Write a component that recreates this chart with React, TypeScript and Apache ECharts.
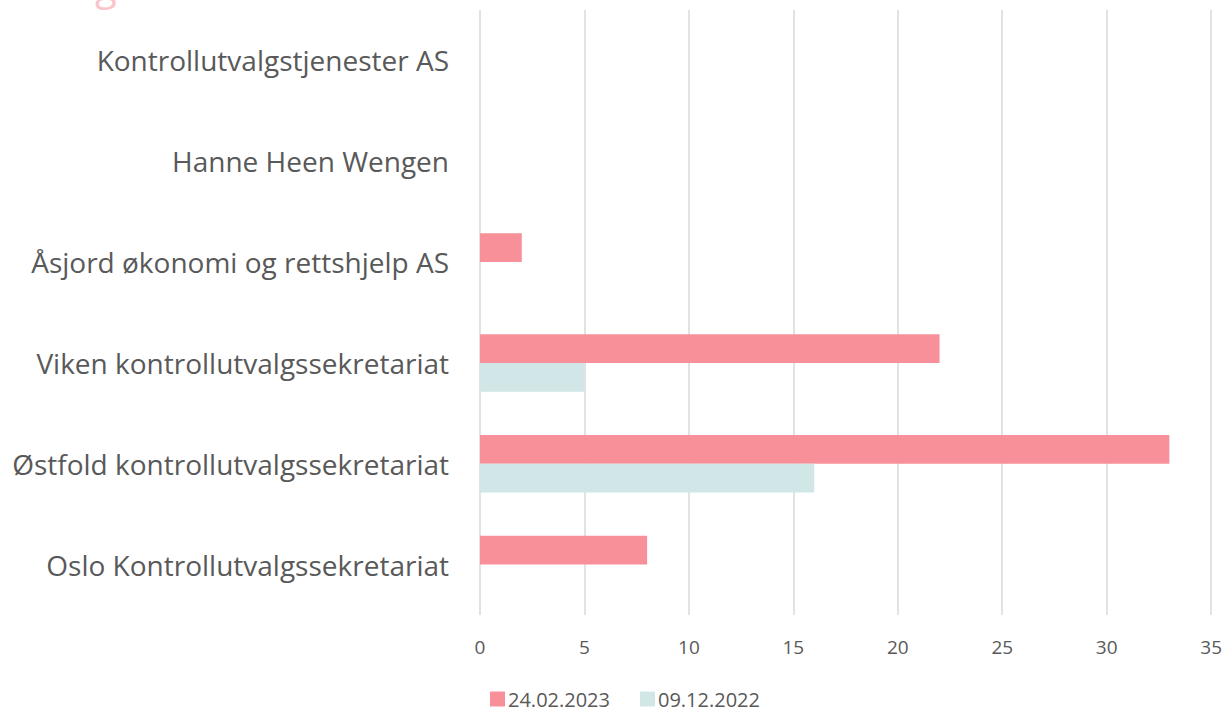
import React, { useEffect, useRef } from "react";
import * as echarts from "echarts";

const categories = [
  "Oslo Kontrollutvalgssekretariat",
  "Østfold kontrollutvalgssekretariat",
  "Viken kontrollutvalgssekretariat",
  "Åsjord økonomi og rettshjelp AS",
  "Hanne Heen Wengen",
  "Kontrollutvalgstjenester AS",
];
const series2023 = [8, 33, 22, 2, 0, 0];
const series2022 = [0, 16, 5, 0, 0, 0];
const seriesNames = ["24.02.2023", "09.12.2022"];
const xTicks = { min: 0, max: 35, interval: 5 };

export default function App() {
  const ref = useRef<HTMLDivElement>(null);
  useEffect(() => {
    document.body.style.margin = "0";
    const chart = echarts.init(ref.current!, null, { renderer: "svg" });
    const font = "'Open Sans', sans-serif";
    chart.setOption({
      animation: false,
      backgroundColor: "#ffffff",
      textStyle: { fontFamily: font },
      grid: { left: 480, right: 13, top: 10, bottom: 92, containLabel: false },
      xAxis: {
        type: "value",
        min: xTicks.min,
        max: xTicks.max,
        interval: xTicks.interval,
        axisLine: { show: false },
        axisTick: { show: false },
        splitLine: { show: true, lineStyle: { color: "#d9d9d9", width: 1.5 } },
        axisLabel: { color: "#595959", fontSize: 19, margin: 22, fontFamily: font },
      },
      yAxis: {
        type: "category",
        data: categories,
        axisLine: { show: false },
        axisTick: { show: false },
        splitLine: { show: false },
        axisLabel: { color: "#595959", fontSize: 28, margin: 31, fontFamily: font },
      },
      legend: {
        data: seriesNames,
        left: 490,
        top: 689,
        padding: 0,
        itemWidth: 15,
        itemHeight: 15,
        itemGap: 30,
        icon: "rect",
        textStyle: { color: "#595959", fontSize: 20, fontFamily: font, padding: [0, 0, 0, -2] },
      },
      graphic: [
        {
          type: "text",
          left: 95,
          top: -36,
          style: { text: "g", fontSize: 40, fill: "#fbc4ca", fontFamily: font },
        },
      ],
      series: [
        {
          name: seriesNames[0],
          type: "bar",
          data: series2023,
          barGap: "0%",
          barCategoryGap: "43%",
          itemStyle: { color: "#f8909a" },
        },
        {
          name: seriesNames[1],
          type: "bar",
          data: series2022,
          barGap: "0%",
          barCategoryGap: "43%",
          itemStyle: { color: "#d0e6e7" },
        },
      ],
    });
    return () => chart.dispose();
  }, []);
  return <div ref={ref} style={{ width: 1225, height: 707 }} />;
}
